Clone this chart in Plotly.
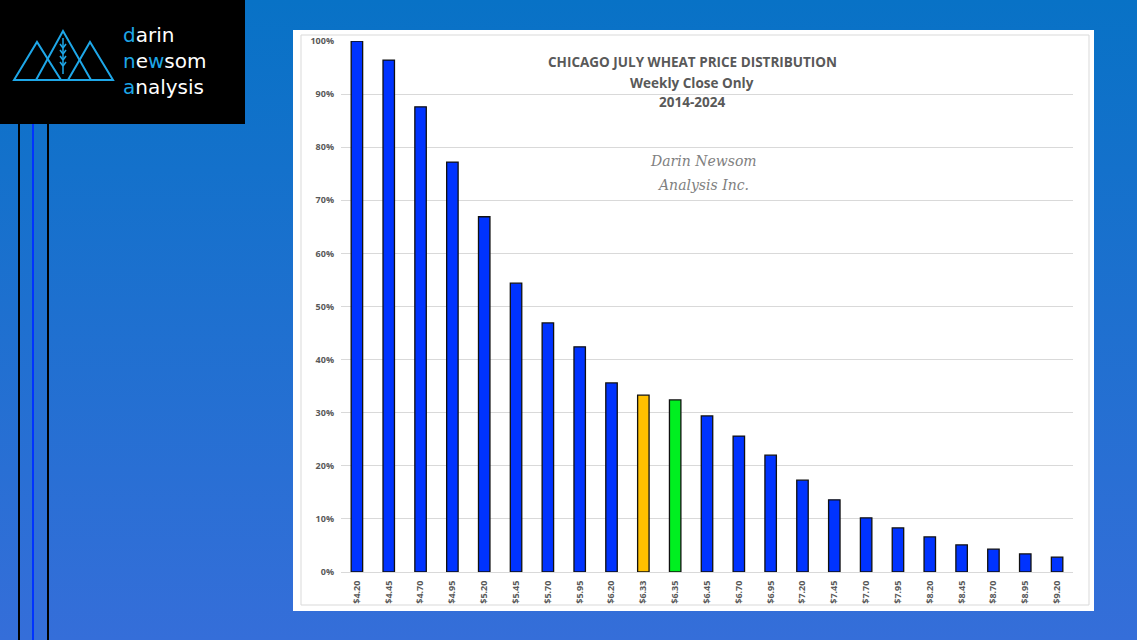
import base64
import plotly.graph_objects as go

categories = ["$4.20", "$4.45", "$4.70", "$4.95", "$5.20", "$5.45", "$5.70", "$5.95",
              "$6.20", "$6.33", "$6.35", "$6.45", "$6.70", "$6.95", "$7.20", "$7.45",
              "$7.70", "$7.95", "$8.20", "$8.45", "$8.70", "$8.95", "$9.20"]
values = [100.0, 96.4, 87.6, 77.2, 66.9, 54.4, 46.9, 42.4, 35.6, 33.3, 32.4, 29.4,
          25.6, 22.0, 17.3, 13.6, 10.2, 8.3, 6.6, 5.1, 4.3, 3.4, 2.8]
bar_colors = ["#0033ff"] * 9 + ["#ffc000", "#00f020"] + ["#0033ff"] * 12
title_lines = ["CHICAGO JULY WHEAT PRICE DISTRIBUTION", "Weekly Close Only", "2014-2024"]
watermark_lines = ["Darin Newsom", "Analysis Inc."]

W, H = 1137, 640
L, R, T, B = 341, 1073, 41, 572


def px(x):
    return (x - L) / (R - L)


def py(y):
    return (B - y) / (B - T)


svg = f'''<svg xmlns="http://www.w3.org/2000/svg" width="{W}" height="{H}">
<defs><linearGradient id="g" x1="0" y1="0" x2="0" y2="1">
<stop offset="0" stop-color="#0872c6"/><stop offset="1" stop-color="#356ed9"/>
</linearGradient></defs><rect width="{W}" height="{H}" fill="url(#g)"/></svg>'''
bg_src = "data:image/svg+xml;base64," + base64.b64encode(svg.encode()).decode()

fig = go.Figure()
fig.add_trace(go.Bar(
    x=categories, y=values, width=0.36,
    marker=dict(color=bar_colors, line=dict(color="#111111", width=1.3)),
    hoverinfo="x+y",
))

shapes = []
# white panel
shapes.append(dict(type="rect", xref="paper", yref="paper", layer="below",
                   x0=px(293), x1=px(1094), y0=py(611), y1=py(30),
                   fillcolor="white", line=dict(width=0)))
shapes.append(dict(type="rect", xref="paper", yref="paper", layer="below",
                   x0=px(301), x1=px(1089), y0=py(605), y1=py(35),
                   fillcolor="rgba(0,0,0,0)", line=dict(color="#d9d9d9", width=1)))
# logo box
shapes.append(dict(type="rect", xref="paper", yref="paper",
                   x0=px(0), x1=px(245), y0=py(124), y1=py(0),
                   fillcolor="black", line=dict(width=0)))
# vertical lines
for xv, col in [(19, "black"), (33, "#0033ff"), (48, "black")]:
    shapes.append(dict(type="line", xref="paper", yref="paper",
                       x0=px(xv), x1=px(xv), y0=py(124), y1=py(640),
                       line=dict(color=col, width=2)))
# mountains
lb = "#1ea7e8"
tris = [((14, 80), (37, 42), (61, 80)), ((36, 80), (63, 31), (91, 80)), ((68, 80), (90, 42), (113, 80))]
for a, b, c in tris:
    path = f"M {px(a[0])},{py(a[1])} L {px(b[0])},{py(b[1])} L {px(c[0])},{py(c[1])} Z"
    shapes.append(dict(type="path", xref="paper", yref="paper", path=path,
                       line=dict(color=lb, width=2)))
shapes.append(dict(type="line", xref="paper", yref="paper",
                   x0=px(63), x1=px(63), y0=py(38), y1=py(74), line=dict(color=lb, width=1.5)))
for yy in [44, 50, 56, 62]:
    for sgn in (-1, 1):
        shapes.append(dict(type="line", xref="paper", yref="paper",
                           x0=px(63), x1=px(63 + sgn * 3), y0=py(yy + 4), y1=py(yy),
                           line=dict(color=lb, width=1.5)))

annotations = []
for i, (t, yy) in enumerate(zip(title_lines, [62, 83, 102])):
    annotations.append(dict(text=f"<b>{t}</b>", xref="paper", yref="paper",
                            x=px(692), y=py(yy), yanchor="middle", showarrow=False,
                            font=dict(family="Open Sans", size=13.5, color="#595959")))
for t, yy in zip(watermark_lines, [161, 185]):
    annotations.append(dict(text=f"<i>{t}</i>", xref="paper", yref="paper",
                            x=px(703), y=py(yy), yanchor="middle", showarrow=False,
                            font=dict(family="DejaVu Serif", size=14, color="#808080")))
blue = "#1ea7e8"
logo_text = (f"<span style='color:{blue}'>d</span>arin<br>"
             f"<span style='color:{blue}'>n</span>e<span style='color:{blue}'>w</span>som<br>"
             f"<span style='color:{blue}'>a</span>nalysis")
annotations.append(dict(text=logo_text, xref="paper", yref="paper", x=px(121), y=py(61),
                        xanchor="left", yanchor="middle", align="left", showarrow=False,
                        font=dict(family="DejaVu Sans", size=20, color="white")))

fig.update_layout(
    width=W, height=H,
    margin=dict(l=L, r=W - R, t=T, b=H - B),
    paper_bgcolor="#1f70d0", plot_bgcolor="white",
    showlegend=False, bargap=0.64,
    images=[dict(source=bg_src, xref="paper", yref="paper", x=px(0), y=py(0),
                 sizex=px(W) - px(0), sizey=py(0) - py(H), sizing="stretch",
                 xanchor="left", yanchor="top", layer="below")],
    shapes=shapes, annotations=annotations,
    xaxis=dict(type="category", tickangle=-90, showgrid=False,
               showline=True, linecolor="#d9d9d9", linewidth=1, ticks="",
               tickfont=dict(family="Open Sans", size=9, color="#595959", weight="bold"),
               ticklabelstandoff=4),
    yaxis=dict(range=[0, 100], dtick=10, ticksuffix="%", showgrid=True,
               gridcolor="#d9d9d9", gridwidth=1, zeroline=False, showline=False,
               tickfont=dict(family="Open Sans", size=9, color="#595959", weight="bold"),
               ticklabelstandoff=6),
)

fig.write_html("out.html", config={"displayModeBar": False})
with open("out.html", "r", encoding="utf-8") as f:
    html = f.read()
html = html.replace("<head>", "<head><style>html,body{margin:0;padding:0;overflow:hidden;}</style>", 1)
with open("out.html", "w", encoding="utf-8") as f:
    f.write(html)
